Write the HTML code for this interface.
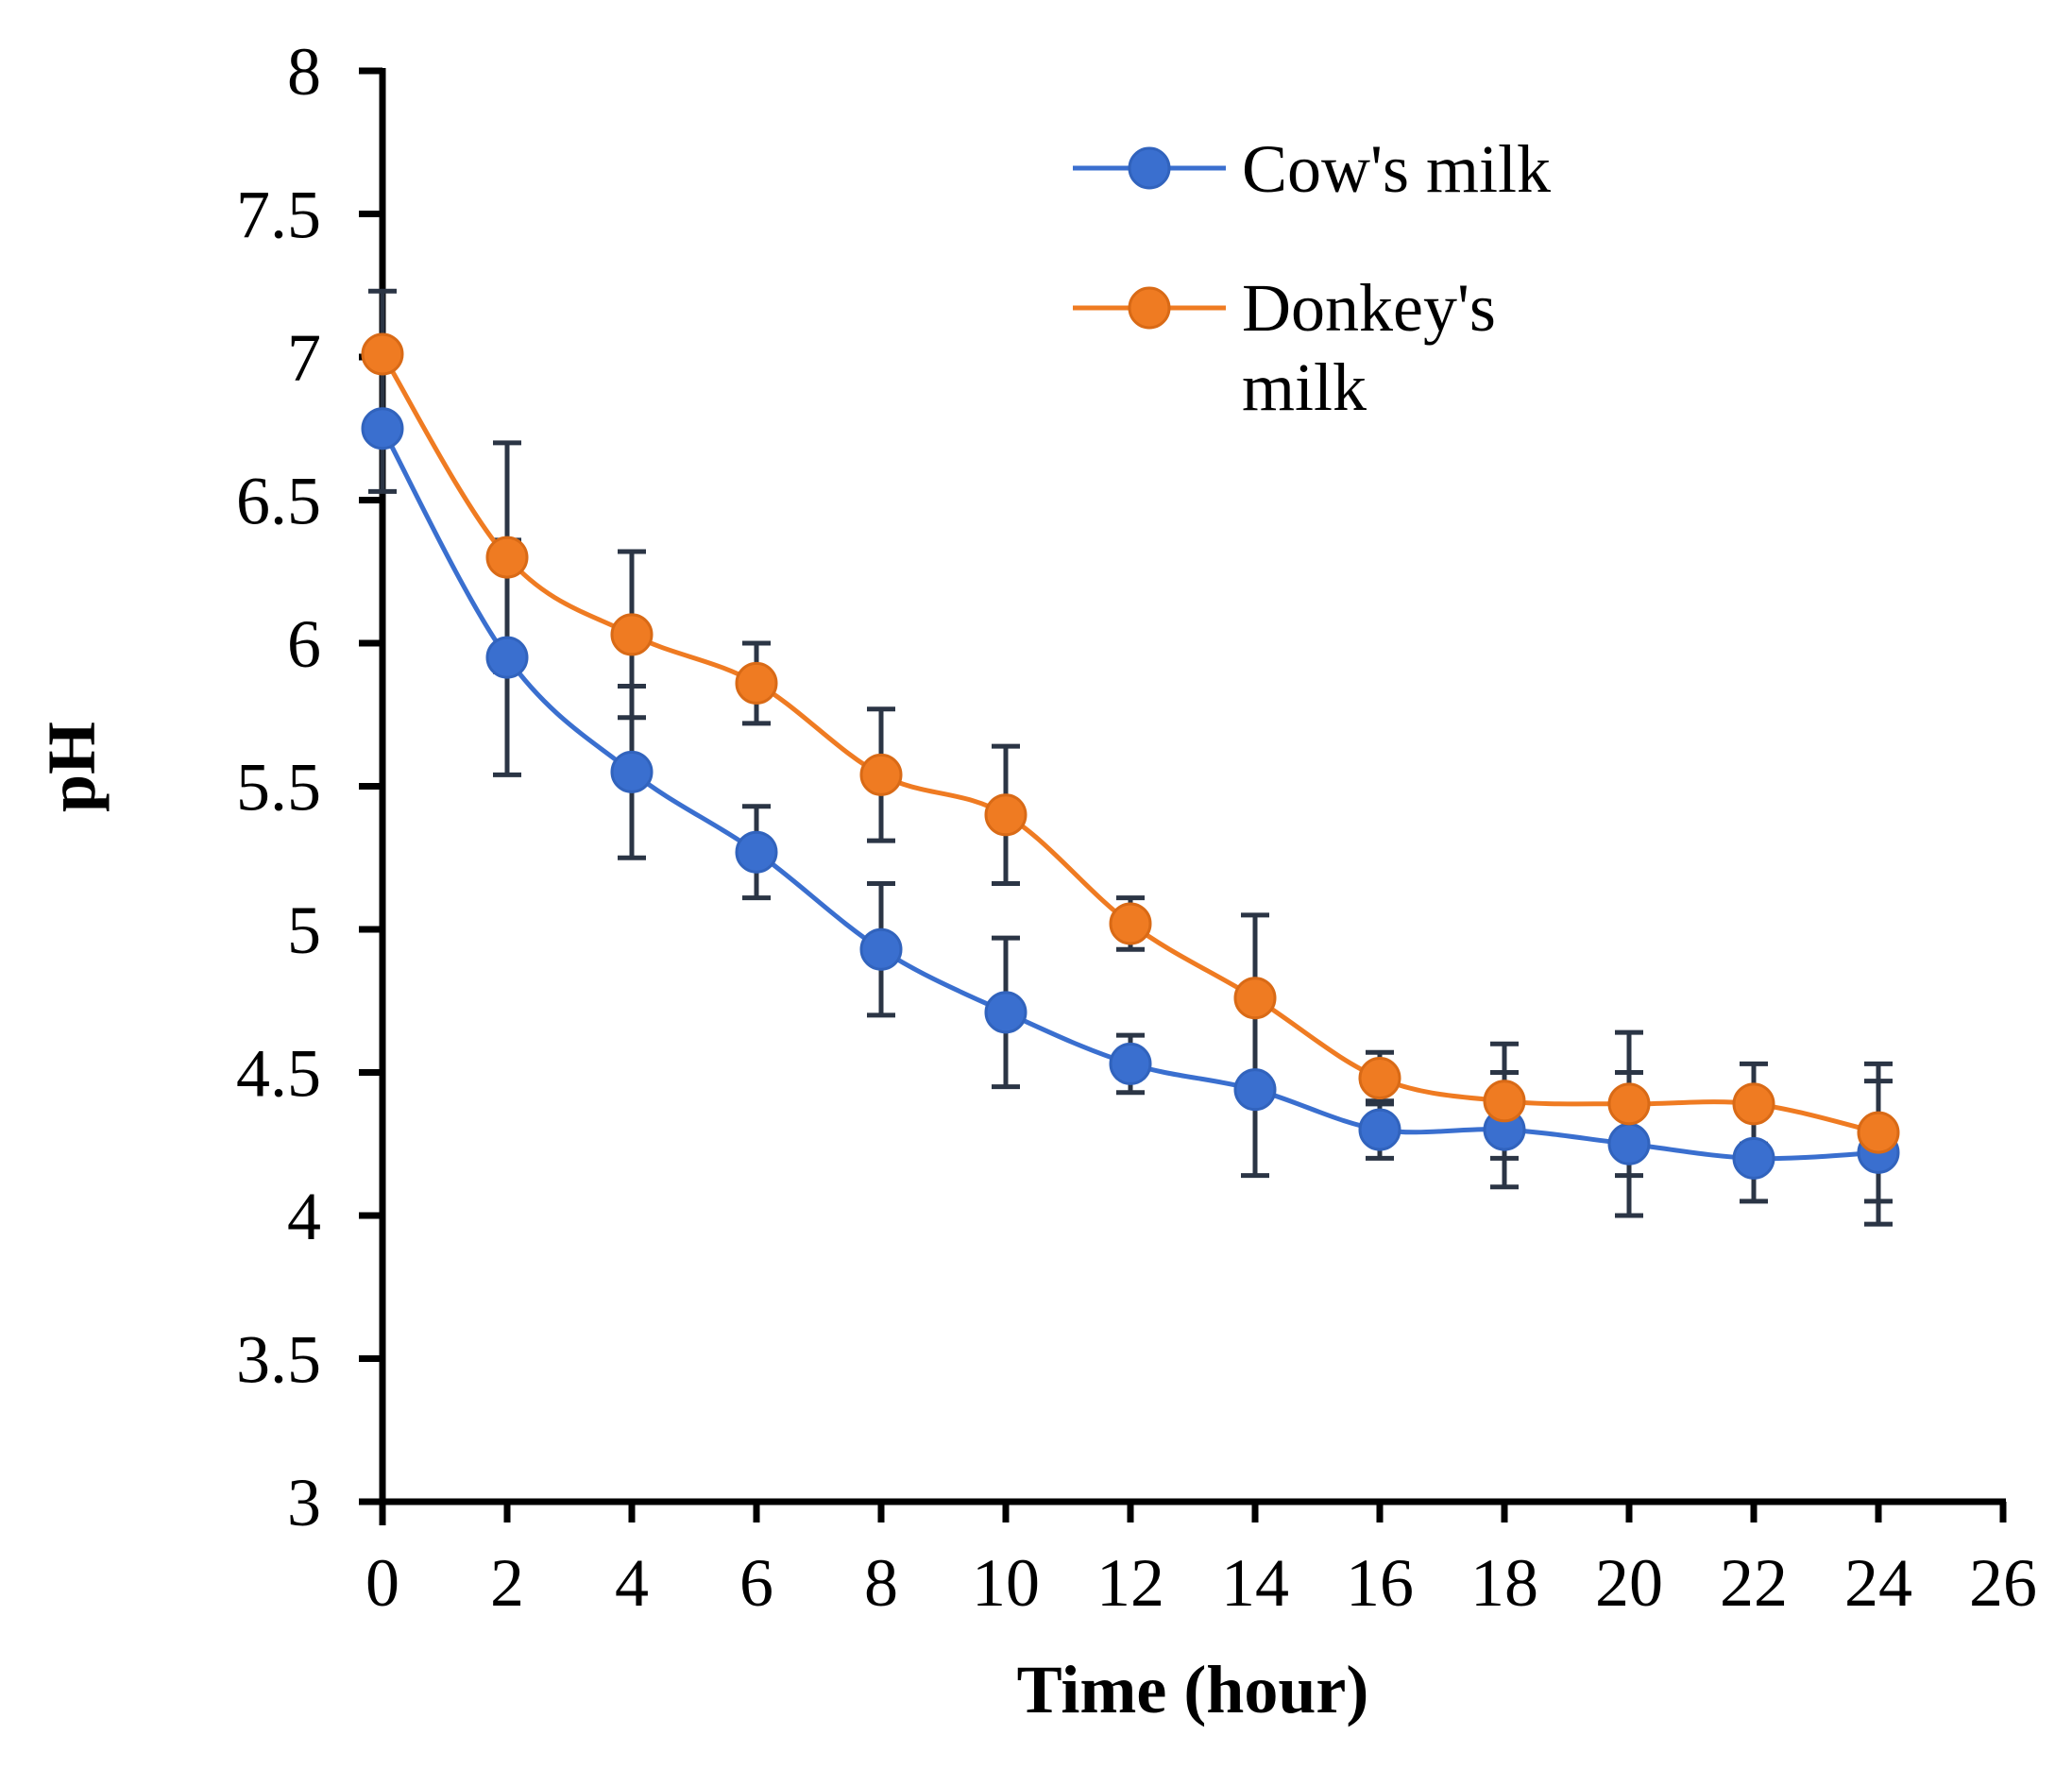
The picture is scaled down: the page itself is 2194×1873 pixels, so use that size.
<!DOCTYPE html>
<html><head><meta charset="utf-8"><style>
html,body{margin:0;padding:0;background:#fff;}
svg text{font-family:"Liberation Serif",serif;fill:#000;}
</style></head><body>
<svg id="chart" width="2194" height="1868" viewBox="0 0 2194 1868" xmlns="http://www.w3.org/2000/svg">
<g id="axes"></g>
<g id="series"></g>
<g id="legend">
  <line x1="1136" y1="178" x2="1298" y2="178" stroke="#3a6fcf" stroke-width="5"/>
  <circle cx="1217" cy="178" r="21" fill="#3a6fcf" stroke="#3163bd" stroke-width="3"/>
  <text x="1315" y="203" font-size="72">Cow's milk</text>
  <line x1="1136" y1="326" x2="1298" y2="326" stroke="#ef7b22" stroke-width="5"/>
  <circle cx="1217" cy="326" r="21" fill="#ef7b22" stroke="#d96a16" stroke-width="3"/>
  <text x="1315" y="350" font-size="72">Donkey's</text>
  <text x="1315" y="434" font-size="72">milk</text>
</g>
<text x="1263" y="1813" font-size="72" font-weight="bold" text-anchor="middle">Time (hour)</text>
<text transform="translate(100,812) rotate(-90)" font-size="72" font-weight="bold" text-anchor="middle">pH</text>
</svg>
<script>
const hours = [0,2,4,6,8,10,12,14,16,18,20,22,24];
const cowPH = [6.75,5.95,5.55,5.27,4.93,4.71,4.53,4.44,4.30,4.30,4.25,4.20,4.22];
const cowErr = [0.22,0.41,0.30,0.16,0.23,0.26,0.10,0.30,0.10,0.20,0.25,0.15,0.25];
const donkeyPH = [7.01,6.30,6.03,5.86,5.54,5.40,5.02,4.76,4.48,4.40,4.39,4.39,4.29];
const donkeyErr = [0.22,0.40,0.29,0.14,0.23,0.24,0.09,0.29,0.09,0.20,0.25,0.14,0.24];
const xTicks = [0,2,4,6,8,10,12,14,16,18,20,22,24,26];
const yTicks = [3,3.5,4,4.5,5,5.5,6,6.5,7,7.5,8];

const NS = "http://www.w3.org/2000/svg";
const X0 = 405, X1 = 2121, Y0 = 1590, Y1 = 75;
function xs(v){ return X0 + (v-0)/(26-0)*(X1-X0); }
function ys(v){ return Y0 - (v-3)/(8-3)*(Y0-Y1); }
function mk(tag, attrs, parent){ const e=document.createElementNS(NS,tag); for(const k in attrs) e.setAttribute(k,attrs[k]); parent.appendChild(e); return e; }

const axes = document.getElementById('axes');
let yAxisLine = mk('line',{x1:X0,y1:Y1-3,x2:X0,y2:Y0+25,stroke:'#000','stroke-width':7},axes);


let xAxisLine = mk('line',{x1:X0-25,y1:Y0,x2:X1+3,y2:Y0,stroke:'#000','stroke-width':7},axes);


yTicks.forEach(v=>{
  const y = ys(v);
  const t = mk('line',{x1:X0-25,y1:y,x2:X0,y2:y,stroke:'#000','stroke-width':7},axes);
  
  
  const l = mk('text',{x:340,y:y+25,'font-size':72,'text-anchor':'end'},axes);
  l.textContent = String(v);
  
  
});
xTicks.forEach(v=>{
  const x = xs(v);
  const t = mk('line',{x1:x,y1:Y0,x2:x,y2:Y0+22,stroke:'#000','stroke-width':7},axes);
  
  
  const l = mk('text',{x:x,y:1700,'font-size':72,'text-anchor':'middle'},axes);
  l.textContent = String(v);
  
  
});

function smoothPath(pts){
  let d = `M${pts[0][0]},${pts[0][1]}`;
  for(let i=0;i<pts.length-1;i++){
    const p0=pts[i-1]||pts[i], p1=pts[i], p2=pts[i+1], p3=pts[i+2]||p2, t=0.17;
    const c1=[p1[0]+(p2[0]-p0[0])*t, p1[1]+(p2[1]-p0[1])*t];
    const c2=[p2[0]-(p3[0]-p1[0])*t, p2[1]-(p3[1]-p1[1])*t];
    d += ` C${c1[0]},${c1[1]} ${c2[0]},${c2[1]} ${p2[0]},${p2[1]}`;
  }
  return d;
}
const series = document.getElementById('series');
const errG = mk('g',{},series);


function drawErr(vals, errs, name){
  hours.forEach((h,i)=>{
    const x=xs(h), yt=ys(vals[i]+errs[i]), yb=ys(vals[i]-errs[i]);
    const g = mk('g',{stroke:'#2b3545','stroke-width':5},errG);
    
    
    mk('line',{x1:x,y1:yt,x2:x,y2:yb},g);
    mk('line',{x1:x-15,y1:yt,x2:x+15,y2:yt},g);
    mk('line',{x1:x-15,y1:yb,x2:x+15,y2:yb},g);
  });
}
drawErr(cowPH,cowErr,'cow');
drawErr(donkeyPH,donkeyErr,'donkey');
function drawSeries(vals, color, edge, name){
  const pts = hours.map((h,i)=>[xs(h),ys(vals[i])]);
  const p = mk('path',{d:smoothPath(pts),fill:'none',stroke:color,'stroke-width':5},series);
  
  
  pts.forEach(pt=>{
    const c = mk('circle',{cx:pt[0],cy:pt[1],r:21,fill:color,stroke:edge,'stroke-width':3},series);
    
    
  });
}
drawSeries(cowPH,'#3a6fcf','#3163bd','cow');
drawSeries(donkeyPH,'#ef7b22','#d96a16','donkey');
</script>
</body></html>
